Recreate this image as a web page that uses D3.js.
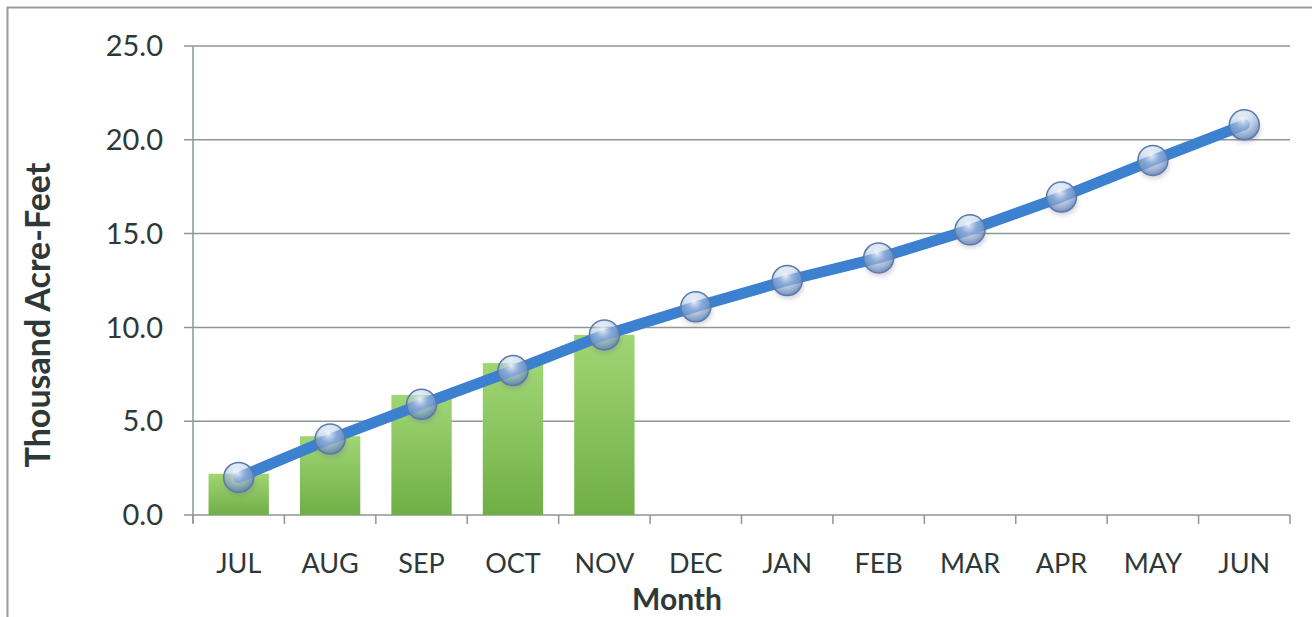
<!DOCTYPE html>
<html>
<head>
<meta charset="utf-8">
<script src="https://cdn.jsdelivr.net/npm/d3@7"></script>
<style>
  body { margin: 0; background: #fff; }
  svg { display: block; font-family: Lato, "Open Sans", sans-serif; }
</style>
</head>
<body>
<svg width="1312" height="617"></svg>
<script>
// chart values
const months = ["JUL", "AUG", "SEP", "OCT", "NOV", "DEC", "JAN", "FEB", "MAR", "APR", "MAY", "JUN"];
const barValues = [2.2, 4.2, 6.4, 8.1, 9.6];
const lineValues = [2.0, 4.05, 5.9, 7.7, 9.6, 11.1, 12.5, 13.7, 15.2, 16.95, 18.9, 20.8];
const yTicks = [0, 5, 10, 15, 20, 25];

const svg = d3.select('svg');
const width = +svg.attr('width');
const height = +svg.attr('height');
const margin = { left: 193, right: 22, top: 46, bottom: 102 };

const x = d3.scaleBand()
  .domain(months)
  .range([margin.left, width - margin.right])
  .paddingInner(0.34)
  .paddingOuter(0.17);
// separate band without padding for the tick marks between categories
const xEdge = d3.scaleBand().domain(months).range(x.range());

const y = d3.scaleLinear()
  .domain([0, 25])
  .range([height - margin.bottom, margin.top]);

const defs = svg.append('defs');

// green bar gradient
const barGrad = defs.append('linearGradient')
  .attr('id', 'barGrad')
  .attr('x1', 0).attr('y1', 0).attr('x2', 0).attr('y2', 1);
barGrad.append('stop').attr('offset', '0%').attr('stop-color', '#a0d674');
barGrad.append('stop').attr('offset', '100%').attr('stop-color', '#70ae46');

// glassy marker gradient
const dotGrad = defs.append('radialGradient')
  .attr('id', 'dotGrad')
  .attr('cx', '45%').attr('cy', '35%').attr('r', '65%');
dotGrad.append('stop').attr('offset', '0%').attr('stop-color', '#ffffff').attr('stop-opacity', 0.85);
dotGrad.append('stop').attr('offset', '45%').attr('stop-color', '#b9d3f0').attr('stop-opacity', 0.5);
dotGrad.append('stop').attr('offset', '100%').attr('stop-color', '#4f79b3').attr('stop-opacity', 0.75);

const shadow = defs.append('filter').attr('id', 'shadow')
  .attr('x', '-50%').attr('y', '-50%').attr('width', '200%').attr('height', '200%');
shadow.append('feGaussianBlur').attr('stdDeviation', 2.5);

// outer frame (left and top edges of the scanned box)
svg.append('line')
  .attr('x1', 7.5).attr('x2', 7.5).attr('y1', 7).attr('y2', height)
  .attr('stroke', '#9a9a9a').attr('stroke-width', 2);
svg.append('line')
  .attr('x1', 7).attr('x2', width).attr('y1', 7.5).attr('y2', 7.5)
  .attr('stroke', '#9a9a9a').attr('stroke-width', 2);

// gridlines
svg.append('g')
  .selectAll('line')
  .data(yTicks)
  .join('line')
  .attr('x1', margin.left - 9)
  .attr('x2', width - margin.right)
  .attr('y1', d => y(d))
  .attr('y2', d => y(d))
  .attr('stroke', '#8d9793')
  .attr('stroke-width', 1.5);

// y axis line
svg.append('line')
  .attr('x1', margin.left).attr('x2', margin.left)
  .attr('y1', y(25)).attr('y2', y(0) + 8)
  .attr('stroke', '#8d9793').attr('stroke-width', 1.5);

// y tick labels
svg.append('g')
  .selectAll('text')
  .data(yTicks)
  .join('text')
  .attr('x', 163)
  .attr('y', d => y(d))
  .attr('dy', '0.35em')
  .attr('text-anchor', 'end')
  .attr('font-size', 29)
  .attr('fill', '#2e3838')
  .text(d => d3.format('.1f')(d));

// x ticks between categories
const edges = months.map(m => xEdge(m)).concat([xEdge.range()[1]]);
svg.append('g')
  .selectAll('line')
  .data(edges)
  .join('line')
  .attr('x1', d => d).attr('x2', d => d)
  .attr('y1', y(0)).attr('y2', y(0) + 9)
  .attr('stroke', '#8d9793').attr('stroke-width', 1.5);

// month labels
svg.append('g')
  .selectAll('text')
  .data(months)
  .join('text')
  .attr('x', d => x(d) + x.bandwidth() / 2)
  .attr('y', 573)
  .attr('text-anchor', 'middle')
  .attr('font-size', 27)
  .attr('fill', '#2e3838')
  .text(d => d);

// bars
svg.append('g')
  .selectAll('rect')
  .data(barValues)
  .join('rect')
  .attr('x', (d, i) => x(months[i]))
  .attr('y', d => y(d))
  .attr('width', x.bandwidth())
  .attr('height', d => y(0) - y(d))
  .attr('fill', 'url(#barGrad)');

// line
const line = d3.line()
  .x((d, i) => x(months[i]) + x.bandwidth() / 2)
  .y(d => y(d));

svg.append('path')
  .datum(lineValues)
  .attr('d', line)
  .attr('fill', 'none')
  .attr('stroke', '#3c80d0')
  .attr('stroke-width', 11)
  .attr('stroke-linecap', 'round')
  .attr('stroke-linejoin', 'round');

// markers: shadow then glassy sphere
const dots = svg.append('g')
  .selectAll('g')
  .data(lineValues)
  .join('g')
  .attr('transform', (d, i) => `translate(${x(months[i]) + x.bandwidth() / 2},${y(d)})`);

dots.append('ellipse')
  .attr('cx', 1).attr('cy', 5)
  .attr('rx', 15).attr('ry', 13)
  .attr('fill', '#7a6f9a')
  .attr('opacity', 0.35)
  .attr('filter', 'url(#shadow)');

dots.append('circle')
  .attr('r', 15)
  .attr('fill', 'url(#dotGrad)')
  .attr('stroke', '#5b7aa6')
  .attr('stroke-width', 1.5);

// axis titles
svg.append('text')
  .attr('transform', 'translate(50,315) rotate(-90)')
  .attr('text-anchor', 'middle')
  .attr('font-size', 34)
  .attr('font-weight', 'bold')
  .attr('fill', '#2e3838')
  .text('Thousand Acre-Feet');

svg.append('text')
  .attr('x', 677)
  .attr('y', 610)
  .attr('text-anchor', 'middle')
  .attr('font-size', 30)
  .attr('font-weight', 'bold')
  .attr('fill', '#2e3838')
  .text('Month');
</script>
</body>
</html>
